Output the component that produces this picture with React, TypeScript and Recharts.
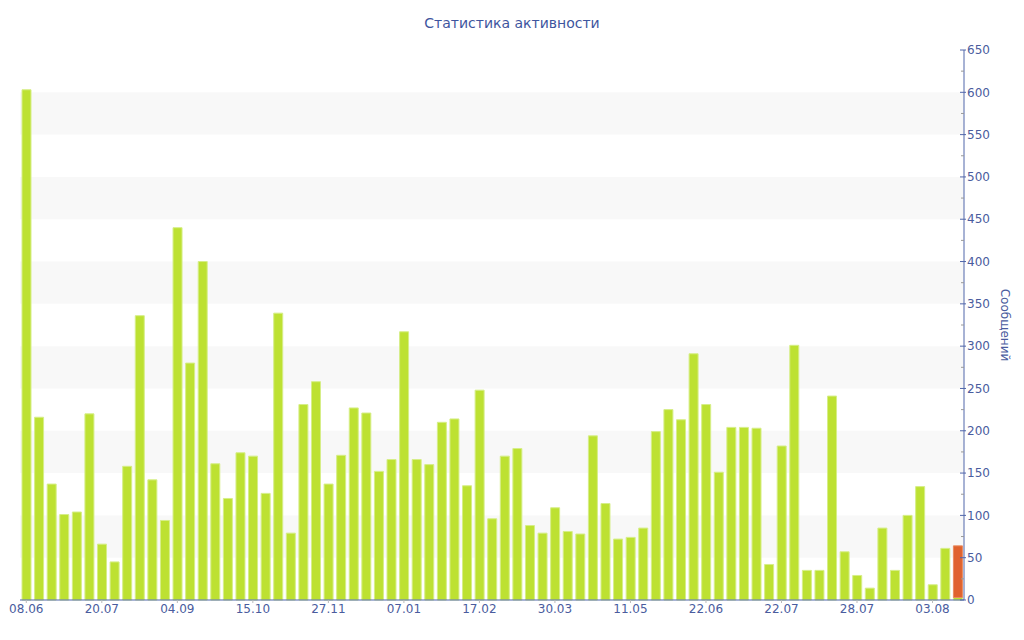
import React from 'react';
import { BarChart, Bar, XAxis, YAxis, ReferenceArea } from 'recharts';

// weekly message counts, oldest first
const messages = [
  603, 216, 137, 101, 104, 220, 66, 45, 158, 336,
  142, 94, 440, 280, 400, 161, 120, 174, 170, 126,
  339, 79, 231, 258, 137, 171, 227, 221, 152, 166,
  317, 166, 160, 210, 214, 135, 248, 96, 170, 179,
  88, 79, 109, 81, 78, 194, 114, 72, 74, 85,
  199, 225, 213, 291, 231, 151, 204, 204, 203, 42,
  182, 301, 35, 35, 241, 57, 29, 14, 85, 35,
  100, 134, 18, 61, 3,
];
// current (unfinished) week, drawn on top in orange
const currentWeek = [61];
const tickDates = ['08.06', '20.07', '04.09', '15.10', '27.11', '07.01', '17.02', '30.03', '11.05', '22.06', '22.07', '28.07', '03.08'];
const tickStep = 6;
const yTicks = Array.from({ length: 27 }, (_, k) => k * 25);
const bandStarts = [50, 150, 250, 350, 450, 550];

const FONT = '"DejaVu Sans", Verdana, sans-serif';
const BLUE = '#4a5c9e';
const AXIS = '#5066aa';

const data = messages.map((v, i) => ({
  i,
  done: v,
  current: i === messages.length - 1 ? currentWeek[0] : 0,
}));

const xTicks = tickDates.map((_, k) => k * tickStep);

const YTick = (props: any) => {
  const { x, y, payload } = props;
  const major = payload.value % 50 === 0;
  return (
    <g>
      <line x1={x - (major ? 4 : 3)} x2={x + (major ? 2 : 0)} y1={y} y2={y} stroke={major ? AXIS : '#999'} />
      {major && (
        <text x={x + 3} y={y} dy="0.35em" fill={BLUE} fontSize={12} fontFamily={FONT}>
          {payload.value}
        </text>
      )}
    </g>
  );
};

export default function App() {
  return (
    <div style={{ position: 'absolute', left: 0, top: 0, width: 1024, height: 640, background: '#fff' }}>
      <div
        style={{
          position: 'absolute', top: 15, left: 0, width: 1024, textAlign: 'center',
          fontFamily: FONT, fontSize: 14, color: '#3e559e',
        }}
      >
        Статистика активности
      </div>
      <BarChart
        width={1024}
        height={640}
        data={data}
        margin={{ top: 50, right: 0, bottom: 0, left: 20 }}
        barSize={9}
      >
        {bandStarts.map((b) => (
          <ReferenceArea key={b} y1={b} y2={b + 50} yAxisId="r" fill="#f8f8f8" fillOpacity={1} stroke="none" />
        ))}
        <XAxis
          dataKey="i"
          type="category"
          ticks={xTicks}
          interval={0}
          tickFormatter={(i: number) => tickDates[i / tickStep] ?? ''}
          height={40}
          axisLine={{ stroke: AXIS }}
          tickLine={{ stroke: '#bbb' }}
          tickSize={3}
          tickMargin={1}
          tick={{ fill: BLUE, fontSize: 12, fontFamily: FONT }}
        />
        <YAxis
          yAxisId="r"
          orientation="right"
          width={60}
          domain={[0, 650]}
          ticks={yTicks}
          interval={0}
          axisLine={{ stroke: AXIS }}
          tickLine={false}
          tickSize={0}
          tickMargin={0}
          tick={<YTick />}
          label={{
            content: ({ viewBox }: any) => {
              const cx = 1005;
              const cy = viewBox.y + viewBox.height / 2;
              return (
                <text x={cx} y={cy} transform={`rotate(90 ${cx} ${cy})`} textAnchor="middle" dy="0.35em"
                  fill={BLUE} fontSize={12} fontFamily={FONT}>
                  Сообщений
                </text>
              );
            },
          }}
        />
        <Bar dataKey="done" stackId="a" yAxisId="r" fill="#bde132" stroke="#d6ee88" strokeWidth={1} isAnimationActive={false} />
        <Bar dataKey="current" stackId="a" yAxisId="r" fill="#e0622e" stroke="#e88a5e" strokeWidth={1} isAnimationActive={false} />
      </BarChart>
    </div>
  );
}
